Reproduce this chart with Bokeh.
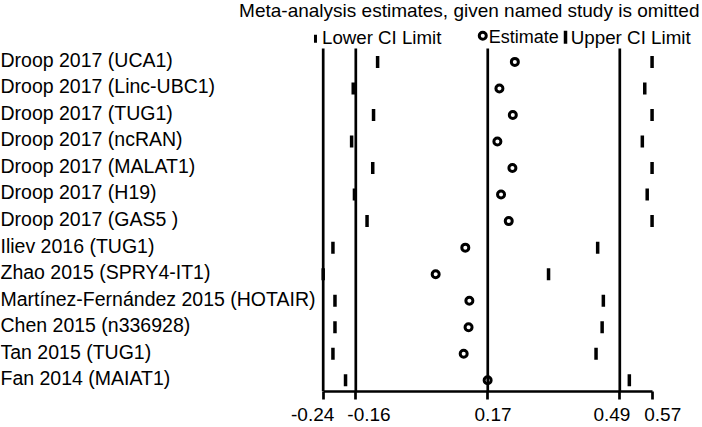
from bokeh.plotting import figure
from bokeh.models import Range1d, LinearAxis, FixedTicker, ColumnDataSource
from bokeh.core.properties import value
from bokeh.embed import file_html
from bokeh.resources import INLINE

studies = ["Droop 2017 (UCA1)", "Droop 2017 (Linc-UBC1)", "Droop 2017 (TUG1)",
           "Droop 2017 (ncRAN)", "Droop 2017 (MALAT1)", "Droop 2017 (H19)",
           "Droop 2017 (GAS5 )", "Iliev 2016 (TUG1)", "Zhao 2015 (SPRY4-IT1)",
           "Martínez-Fernández 2015 (HOTAIR)", "Chen 2015 (n336928)",
           "Tan 2015 (TUG1)", "Fan 2014 (MAIAT1)"]
estimate = [0.232, 0.194, 0.227, 0.189, 0.226, 0.198, 0.217,
            0.110, 0.037, 0.120, 0.118, 0.106, 0.165]
lower_ci = [-0.106, -0.166, -0.116, -0.170, -0.118, -0.163, -0.132,
            -0.216, -0.240, -0.211, -0.211, -0.216, -0.185]
upper_ci = [0.570, 0.552, 0.570, 0.546, 0.570, 0.558, 0.570,
            0.436, 0.315, 0.450, 0.447, 0.432, 0.514]
overall = [-0.1597, 0.1653, 0.4905]      # overall lower CI, estimate, upper CI
axis_min, axis_max = -0.24, 0.5703
tick_values = [-0.24, -0.1597, 0.1653, 0.4905, 0.5703]
tick_labels = ["-0.24", "-0.16", "0.17", "0.49", "0.57"]
title_text = "Meta-analysis estimates, given named study is omitted"
legend_texts = ["Lower CI Limit", "Estimate", "Upper CI Limit"]

FONT = "Liberation Sans"
rows = list(range(1, len(studies) + 1))

W, H = 702, 427
Y_TOP, Y_BOT = -1.3135, 13.422
X_START, X_END = -1.0348, 0.6942
p = figure(width=W, height=H, output_backend="svg", toolbar_location=None,
           x_axis_type=None, y_axis_type=None,
           min_border_left=0, min_border_right=0, min_border_top=0,
           min_border_bottom=34, outline_line_color=None,
           x_range=Range1d(X_START, X_END), y_range=Range1d(Y_BOT, Y_TOP))
p.xgrid.visible = False
p.ygrid.visible = False
p.background_fill_color = "white"
p.border_fill_color = "white"

# tick labels are nudged sideways (with no-break spaces) as in the reference,
# so that the close neighbours do not collide
NB = "\u00a0"
pad_left = [0, 5, 2, 0, 4]
pad_right = [4, 0, 0, 3, 0]
ax = LinearAxis(ticker=FixedTicker(ticks=tick_values), bounds=(axis_min, axis_max))
ax.major_label_overrides = {v: NB * a + l + NB * b
                            for v, l, a, b in zip(tick_values, tick_labels, pad_left, pad_right)}
ax.axis_line_width = 2.7
ax.axis_line_color = "black"
ax.major_tick_line_width = 2.7
ax.major_tick_line_color = "black"
ax.major_tick_out = 8
ax.major_tick_in = 0
ax.minor_tick_line_color = None
ax.major_label_standoff = 4
ax.major_label_text_font = FONT
ax.major_label_text_font_size = "19px"
ax.major_label_text_color = "black"
p.add_layout(ax, "below")

# vertical reference lines (left axis + overall CI / estimate)
vx = [axis_min] + overall
p.segment(x0=vx, x1=vx, y0=[0.5] * len(vx), y1=[Y_BOT] * len(vx),
          line_color="black", line_width=2.7)

src = ColumnDataSource(dict(y=rows, est=estimate, lo=lower_ci, hi=upper_ci, name=studies,
                            ty=[r - 0.08 for r in rows]))
p.rect(x="lo", y="y", width=3.5, height=12, width_units="screen", height_units="screen",
       source=src, fill_color="black", line_color=None)
p.rect(x="hi", y="y", width=3.5, height=12, width_units="screen", height_units="screen",
       source=src, fill_color="black", line_color=None)
p.scatter(x="est", y="y", source=src, marker="circle", size=7,
          fill_color="white", fill_alpha=0, line_color="black", line_width=3)

# study labels
p.text(x=X_START, y="ty", text="name", source=src, text_font=value(FONT),
       text_font_size="19.5px", text_align="left", text_baseline="middle",
       text_color="black")

# title and legend
p.text(x=[0.6868], y=[-0.94], text=[title_text], text_font=value(FONT),
       text_font_size="19px", text_align="right", text_baseline="middle",
       text_color="black")
LEG_Y = 0.074
p.rect(x=[-0.259], y=[LEG_Y + 0.05], width=3, height=8, width_units="screen",
       height_units="screen", fill_color="black", line_color=None)
p.text(x=[-0.243], y=[LEG_Y], text=[legend_texts[0]], text_font=value(FONT),
       text_font_size="18.7px", text_align="left", text_baseline="middle",
       text_color="black")
p.scatter(x=[0.153], y=[LEG_Y - 0.06], marker="circle", size=7, fill_alpha=0,
          line_color="black", line_width=3)
p.text(x=[0.168], y=[LEG_Y], text=[legend_texts[1]], text_font=value(FONT),
       text_font_size="18px", text_align="left", text_baseline="middle",
       text_color="black")
p.rect(x=[0.3568], y=[LEG_Y], width=3.5, height=13, width_units="screen",
       height_units="screen", fill_color="black", line_color=None)
p.text(x=[0.3696], y=[LEG_Y], text=[legend_texts[2]], text_font=value(FONT),
       text_font_size="18.8px", text_align="left", text_baseline="middle",
       text_color="black")

open("out.html", "w").write(file_html(p, INLINE))
